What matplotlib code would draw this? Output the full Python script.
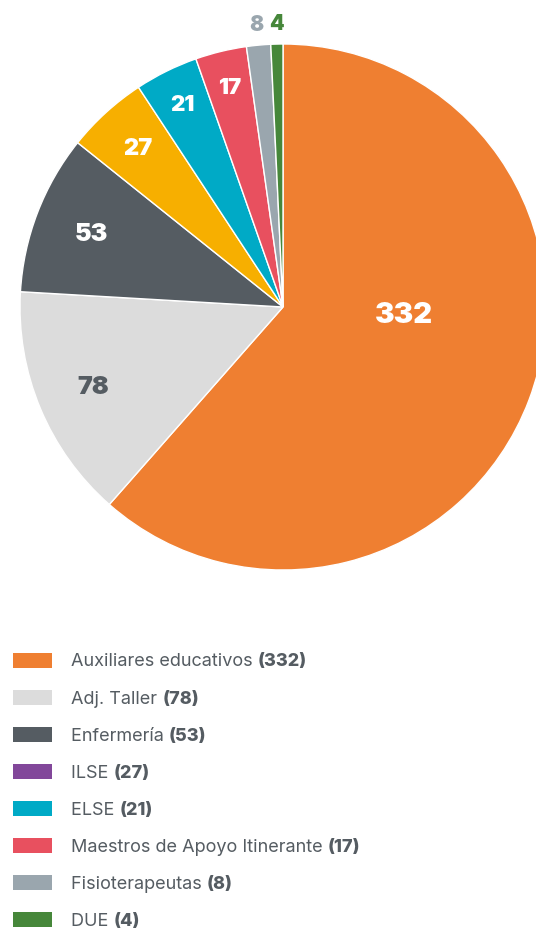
import matplotlib
matplotlib.use("Agg")
import matplotlib.pyplot as plt
from matplotlib.patches import Rectangle
import numpy as np

categories = ["Auxiliares educativos", "Adj. Taller", "Enfermería", "ILSE", "ELSE",
              "Maestros de Apoyo Itinerante", "Fisioterapeutas", "DUE"]
values = [332, 78, 53, 27, 21, 17, 8, 4]
pie_colors = ["#EF7F31", "#DCDCDC", "#555C62", "#F7AF00", "#00AAC6", "#E8505F", "#9AA6AE", "#46873A"]
legend_colors = ["#EF7F31", "#DCDCDC", "#555C62", "#82479A", "#00AAC6", "#E8505F", "#9AA6AE", "#46873A"]
label_colors = ["white", "#555C62", "white", "white", "white", "white", "#9AA6AE", "#46873A"]
label_dist = [0.46, 0.78, 0.78, 0.82, 0.86, 0.86, 1.08, 1.08]
label_angle_shift = [16.9, 0, 0, 0, 0, 0, 0, 0]
label_size = [21, 18, 18, 17, 16, 16, 15, 15]

W, H = 536, 929
fig = plt.figure(figsize=(W / 100, H / 100), dpi=100)
ax = fig.add_axes([0, 0, 1, 1])
ax.set_xlim(0, W)
ax.set_ylim(0, H)
ax.set_aspect("equal")
ax.axis("off")

cx, cy, R = 283, H - 308, 263
wedges, _ = ax.pie(values, colors=pie_colors, startangle=90, counterclock=False,
                   center=(cx, cy), radius=R, frame=True,
                   wedgeprops=dict(edgecolor="white", linewidth=1.0))
ax.set_xlim(0, W)
ax.set_ylim(0, H)
ax.axis("off")

for w, v, c, d, s, fs in zip(wedges, values, label_colors, label_dist, label_angle_shift, label_size):
    ang = np.deg2rad((w.theta1 + w.theta2) / 2 + s)
    x = cx + R * d * np.cos(ang)
    y = cy + R * d * np.sin(ang)
    ax.text(x, y, str(v), ha="center", va="center", color=c, fontsize=fs,
            fontweight=900, family="Inter")

# legend
text_color = "#555C62"
fig.canvas.draw()
renderer = fig.canvas.get_renderer()
y0 = H - 662
step = 37.1
for i, (cat, v, col) in enumerate(zip(categories, values, legend_colors)):
    y = y0 - i * step
    ax.add_patch(Rectangle((13, y - 7.5 + 1), 39, 15, facecolor=col, edgecolor="none"))
    t = ax.text(71, y, cat + " ", ha="left", va="center", color=text_color,
                fontsize=13, family="Inter")
    bb = t.get_window_extent(renderer)
    ax.text(bb.x1, y, f"({v})", ha="left", va="center", color=text_color,
            fontsize=13, fontweight=800, family="Inter")

fig.savefig("out.png", dpi=100)
